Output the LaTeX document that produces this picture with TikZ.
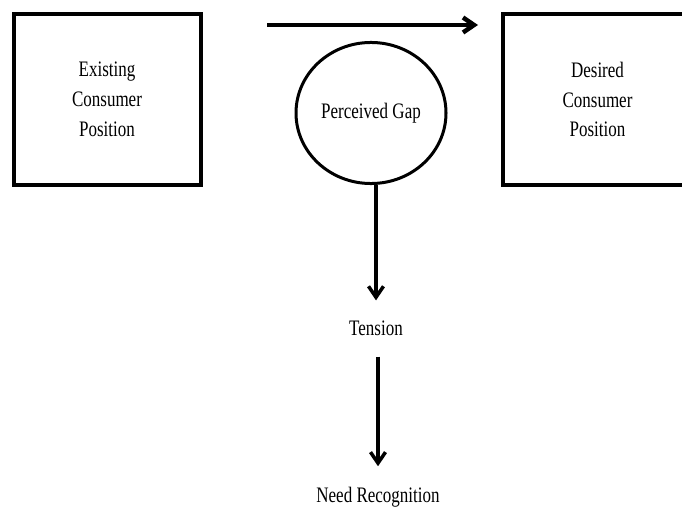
\documentclass[tikz,border=0pt]{standalone}
\usepackage{fontspec}
\setmainfont{Liberation Serif}
\usetikzlibrary{arrows.meta,shapes}

\begin{document}
\begin{tikzpicture}[x=1pt,y=-1pt,>={Straight Barb[length=11pt,width=15pt]},font=\fontsize{17}{23}\selectfont]

    \useasboundingbox (0,0) rectangle (682,508);

    \tikzstyle{tall}=[yscale=1.3,transform shape]
    \tikzstyle{position}=[tall,rectangle,draw,line width=4pt,minimum width=187pt,minimum height=131.5pt,align=center]
    \tikzstyle{gap}=[tall,ellipse,draw,line width=3pt,minimum width=150pt,minimum height=108.5pt,inner sep=0pt]
    \tikzstyle{stage}=[tall,outer sep=12.6pt]
    \tikzstyle{flow}=[->,line width=3.5pt]

    \node [position] (exist) at (107,99.5) {Existing\\Consumer\\Position};
    \node [position,minimum width=190pt] (desired) at (597.5,99.5) {Desired\\Consumer\\Position};
    \node [gap] (gap) at (371,113) {Perceived Gap};
    \node [stage] (tension) at (376,328.5) {Tension};
    \node [stage] (need) at (378,497) {Need Recognition};

    \coordinate (from) at (267,25);
    \coordinate (to) at (478,25);

    \draw [flow,line width=4.5pt] (from) -- (to);
    \draw [flow] (tension.north |- gap.south) -- (tension.north);
    \draw [flow] (need.north |- tension.south) -- (need.north);

\end{tikzpicture}
\end{document}
